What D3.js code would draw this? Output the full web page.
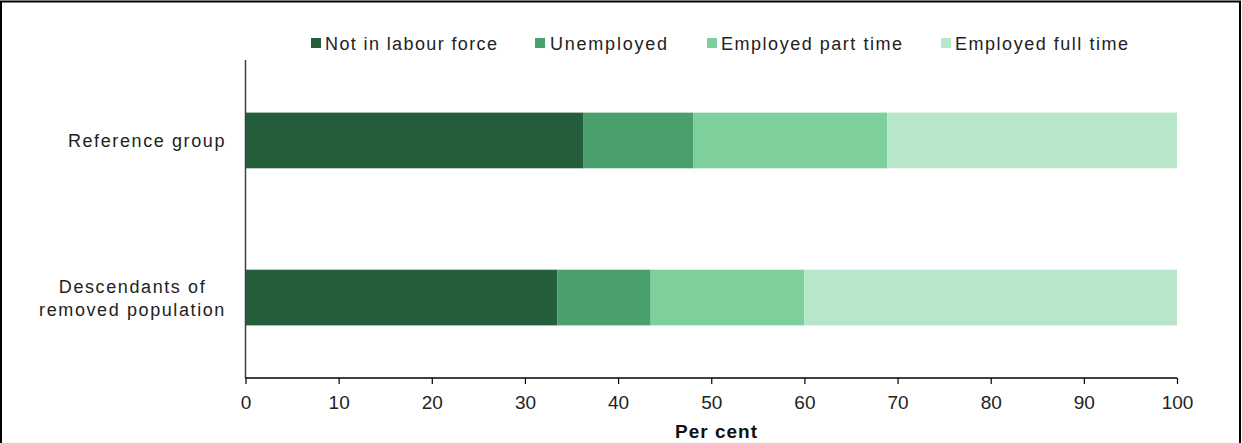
<!DOCTYPE html>
<html><head><meta charset="utf-8">
<script src="https://cdn.jsdelivr.net/npm/d3@7"></script>
<style>body{margin:0;background:#fff}svg{display:block}text{font-family:"Liberation Sans",Arial,sans-serif}</style>
</head><body><svg id="c" width="1242" height="443"></svg>
<script>
const categories = ["Reference group", "Descendants of removed population"];
const categoryLines = [["Reference group"], ["Descendants of", "removed population"]];
const seriesNames = ["Not in labour force", "Unemployed", "Employed part time", "Employed full time"];
const notInLabourForce = [36.3, 33.5];
const unemployed = [11.8, 10.0];
const employedPartTime = [20.8, 16.5];
const employedFullTime = [31.1, 40.0];
const xTicks = [0,10,20,30,40,50,60,70,80,90,100];
const colors = ["#245e3b", "#4aa06c", "#7dcf9c", "#b8e6cb"];

const svg = d3.select("#c");
svg.append("rect").attr("x",1).attr("y",1.5).attr("width",1239).attr("height",460)
  .attr("fill","none").attr("stroke","#000").attr("stroke-width",2);

const x = d3.scaleLinear().domain([0,100]).range([245.5,1177]);
const y = d3.scaleBand().domain(categories).range([60,378]).paddingInner(0.6456).paddingOuter(0.335);

const rows = categories.map((c,i)=>({cat:c, v:[notInLabourForce[i],unemployed[i],employedPartTime[i],employedFullTime[i]]}));
const stackData = rows.map(r=>{const o={cat:r.cat}; seriesNames.forEach((s,j)=>o[s]=r.v[j]); return o;});
const stacked = d3.stack().keys(seriesNames)(stackData);

stacked.forEach((layer,j)=>{
  svg.append("g").selectAll("rect").data(layer).join("rect")
    .attr("x",d=>x(d[0])).attr("width",d=>x(d[1])-x(d[0]))
    .attr("y",d=>y(d.data.cat)).attr("height",y.bandwidth())
    .attr("fill",colors[j]);
});

// y axis line
svg.append("line").attr("x1",245.5).attr("x2",245.5).attr("y1",60).attr("y2",378)
  .attr("stroke","#404040").attr("stroke-width",1.5);

// x axis
const xAxis = d3.axisBottom(x).tickValues(xTicks).tickSize(6).tickPadding(15).tickFormat(d3.format("d"));
const gx = svg.append("g").attr("transform","translate(0,378)").call(xAxis);
gx.select(".domain").attr("stroke","#000").attr("stroke-width",1.5).attr("d","M245.5,0H1177");
gx.selectAll(".tick line").attr("stroke","#000").attr("stroke-width",1.2);
gx.selectAll(".tick text").attr("font-size",19).attr("fill","#222").attr("dy","0.55em")
  .style("font-family","'Liberation Sans',Arial,sans-serif");

svg.append("text").attr("x",716).attr("y",438).attr("text-anchor","middle")
  .attr("font-size",19).attr("font-weight","bold").attr("fill","#111")
  .attr("textLength",82).attr("lengthAdjust","spacing").text("Per cent");

// category labels
const labelRight = 226;
categories.forEach((c,i)=>{
  const lines = categoryLines[i];
  const cy = y(c)+y.bandwidth()/2;
  const lh = 23;
  const g = svg.append("g");
  const texts = lines.map((l,k)=> g.append("text")
      .attr("y",cy + (k-(lines.length-1)/2)*lh + 7)
      .attr("font-size",18).attr("fill","#222").attr("letter-spacing","1.6px").text(l));
  const widths = texts.map(t=>t.node().getComputedTextLength());
  const maxW = d3.max(widths);
  texts.forEach(t=>t.attr("x",labelRight - maxW/2).attr("text-anchor","middle"));
});

// legend
const legendX = [311, 535, 707, 941];
const legendTextX = [325, 550, 721, 955];
const legendTextW = [172, 117, 181, 173];
seriesNames.forEach((s,j)=>{
  svg.append("rect").attr("x",legendX[j]).attr("y",38).attr("width",10).attr("height",10).attr("fill",colors[j]);
  svg.append("text").attr("x",legendTextX[j]).attr("y",50).attr("font-size",18).attr("fill","#222")
    .attr("textLength",legendTextW[j]).attr("lengthAdjust","spacing").text(s);
});
</script></body></html>
